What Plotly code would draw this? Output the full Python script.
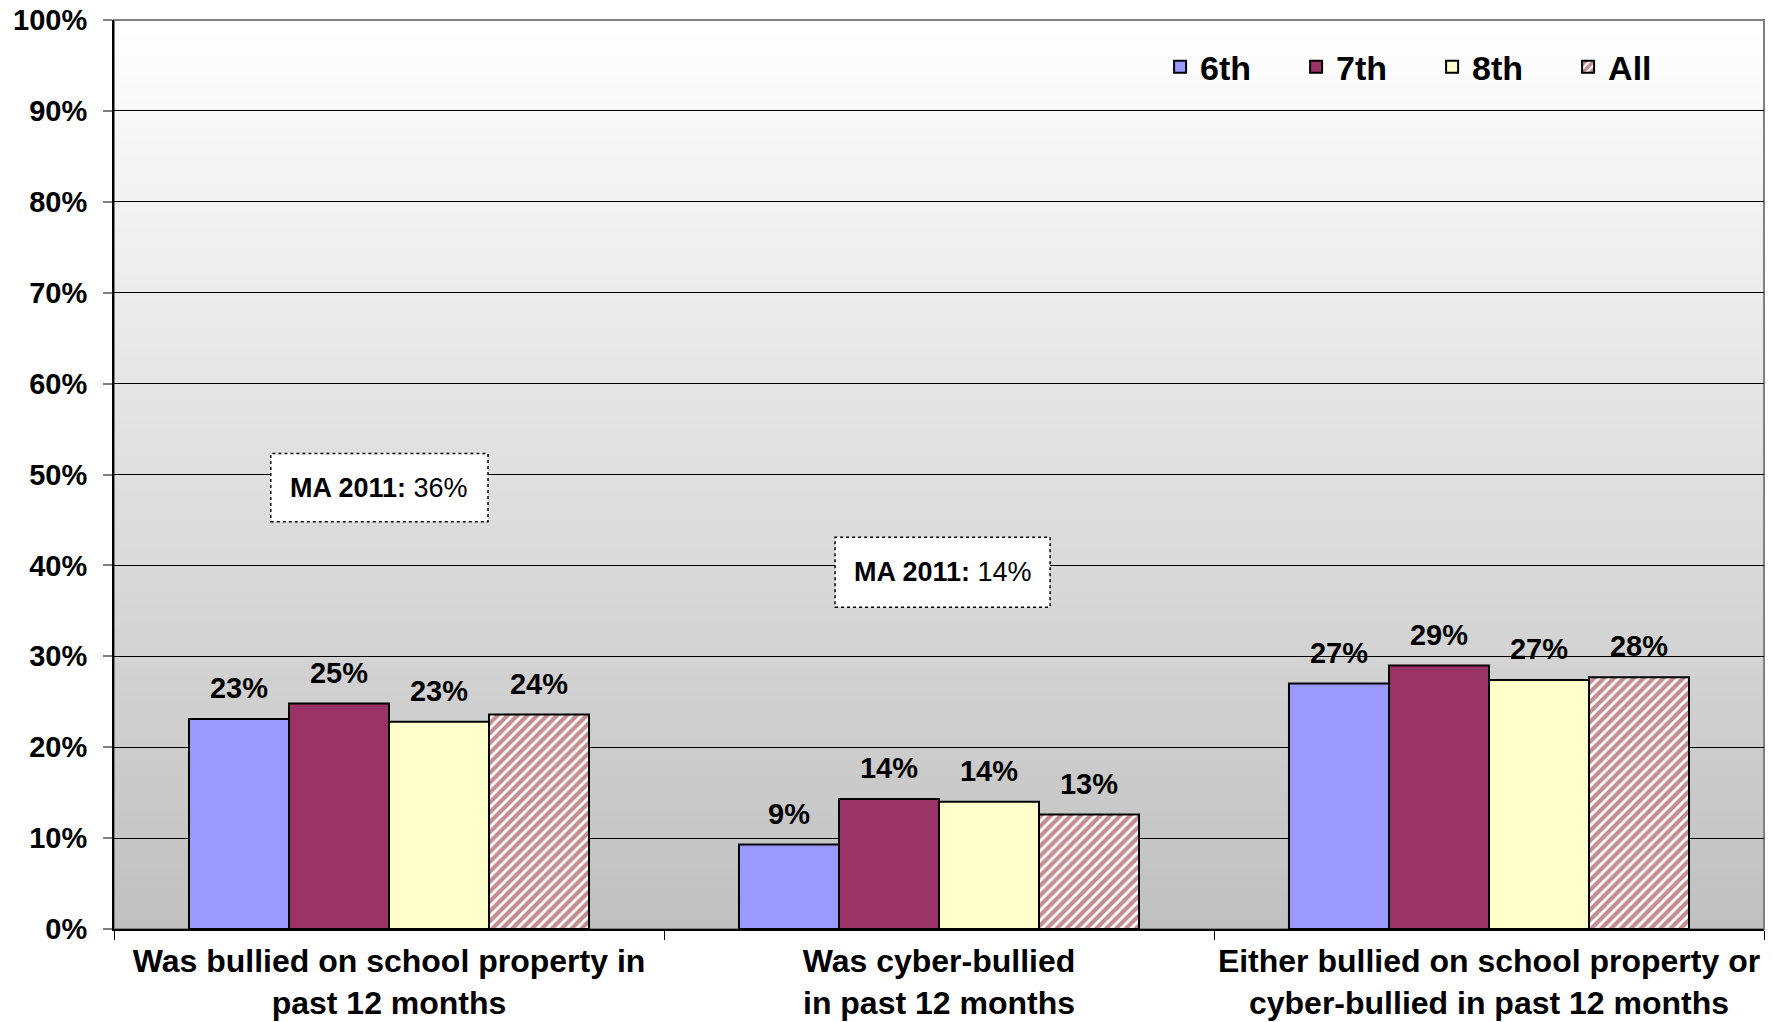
import plotly.graph_objects as go

# data
categories = [
    "Was bullied on school property in<br>past 12 months",
    "Was cyber-bullied<br>in past 12 months",
    "Either bullied on school property or<br>cyber-bullied in past 12 months",
]
grade_6 = [23.1, 9.3, 27.0]
grade_7 = [24.8, 14.3, 29.0]
grade_8 = [22.8, 14.0, 27.4]
grade_all = [23.6, 12.6, 27.7]
series_names = ["6th", "7th", "8th", "All"]
ma_2011_labels = ["36%", "14%"]

FONT = "Arial, Liberation Sans, sans-serif"
OFF = 8  # page body margin of the html page
GAP = 0.2727

series = [
    (series_names[0], grade_6, dict(color="#9999ff")),
    (series_names[1], grade_7, dict(color="#993366")),
    (series_names[2], grade_8, dict(color="#ffffcc")),
    (series_names[3], grade_all, dict(color="white",
                                      pattern=dict(shape="/", fgcolor="#8a1a20", bgcolor="white",
                                                   size=7, solidity=0.6))),
]

fig = go.Figure()
for name, vals, mk in series:
    fig.add_trace(go.Bar(
        name=name,
        x=categories,
        y=vals,
        offsetgroup=name,
        marker=dict(line=dict(color="black", width=2), **mk),
    ))
# value labels, kept a bit above the bars
for name, vals, _ in series:
    fig.add_trace(go.Scatter(
        x=categories,
        y=vals,
        offsetgroup=name,
        mode="markers+text",
        marker=dict(size=20, color="rgba(0,0,0,0)"),
        text=[f"{v:.0f}%" for v in vals],
        textposition="top center",
        textfont=dict(family=FONT, size=29, color="black", weight="bold"),
        cliponaxis=False,
        showlegend=False,
        hoverinfo="skip",
    ))

# background gradient (white at top to grey at bottom)
shapes = []
steps = 100
for i in range(steps):
    t = (i + 0.5) / steps
    c = int(round(192 + (255 - 192) * t))
    shapes.append(dict(type="rect", xref="x domain", yref="y domain",
                       x0=0, x1=1, y0=i / steps, y1=min(1, (i + 2) / steps),
                       fillcolor=f"rgb({c},{c},{c})", line=dict(width=0), layer="below"))
# grey frame top/right
shapes.append(dict(type="rect", xref="x domain", yref="y domain", x0=0, x1=1, y0=0, y1=1,
                   line=dict(color="#808080", width=2), layer="below"))

# MA 2011 boxes
boxes = [(-0.215, 0.18, 44.8, 52.3), (0.811, 1.202, 35.4, 43.1)]
annotations = []
for (x0, x1, y0, y1), lab in zip(boxes, ma_2011_labels):
    shapes.append(dict(type="rect", xref="x", yref="y", x0=x0, x1=x1, y0=y0, y1=y1,
                       fillcolor="white", line=dict(color="black", width=1.5, dash="dot"),
                       layer="above"))
    annotations.append(dict(x=(x0 + x1) / 2, y=(y0 + y1) / 2, xref="x", yref="y",
                            text=f"<b>MA 2011:</b> {lab}", showarrow=False,
                            font=dict(family=FONT, size=27, color="black")))

fig.update_layout(
    width=1781, height=1022,
    margin=dict(l=114 - OFF, r=17 + OFF, t=20 - OFF, b=93 + OFF),
    paper_bgcolor="white",
    plot_bgcolor="rgba(0,0,0,0)",
    barmode="group",
    bargap=GAP,
    bargroupgap=0,
    scattermode="group",
    scattergap=GAP,
    shapes=shapes,
    annotations=annotations,
    font=dict(family=FONT, color="black"),
    legend=dict(orientation="h", x=0.634, y=0.948, xanchor="left", yanchor="middle",
                bgcolor="rgba(0,0,0,0)",
                font=dict(family=FONT, size=34, color="black", weight="bold"),
                entrywidth=91, entrywidthmode="pixels"),
)
fig.update_yaxes(
    range=[0, 100], dtick=10, ticksuffix="%",
    showgrid=True, gridcolor="black", gridwidth=1,
    showline=True, linecolor="black", linewidth=2,
    ticks="outside", ticklen=9, tickcolor="#808080", tickwidth=2,
    ticklabelstandoff=10, ticklabeloverflow="allow",
    tickfont=dict(family=FONT, size=29, color="black", weight="bold"),
    zeroline=False, automargin=False,
)
fig.update_xaxes(
    showline=True, linecolor="black", linewidth=2,
    ticks="outside", ticklen=9, tickcolor="black", tickwidth=1,
    tickson="boundaries", tickangle=0,
    ticklabelstandoff=3, ticklabeloverflow="allow",
    tickfont=dict(family=FONT, size=32, color="black", weight="bold"),
    automargin=False,
)

fig.write_html("out.html")
